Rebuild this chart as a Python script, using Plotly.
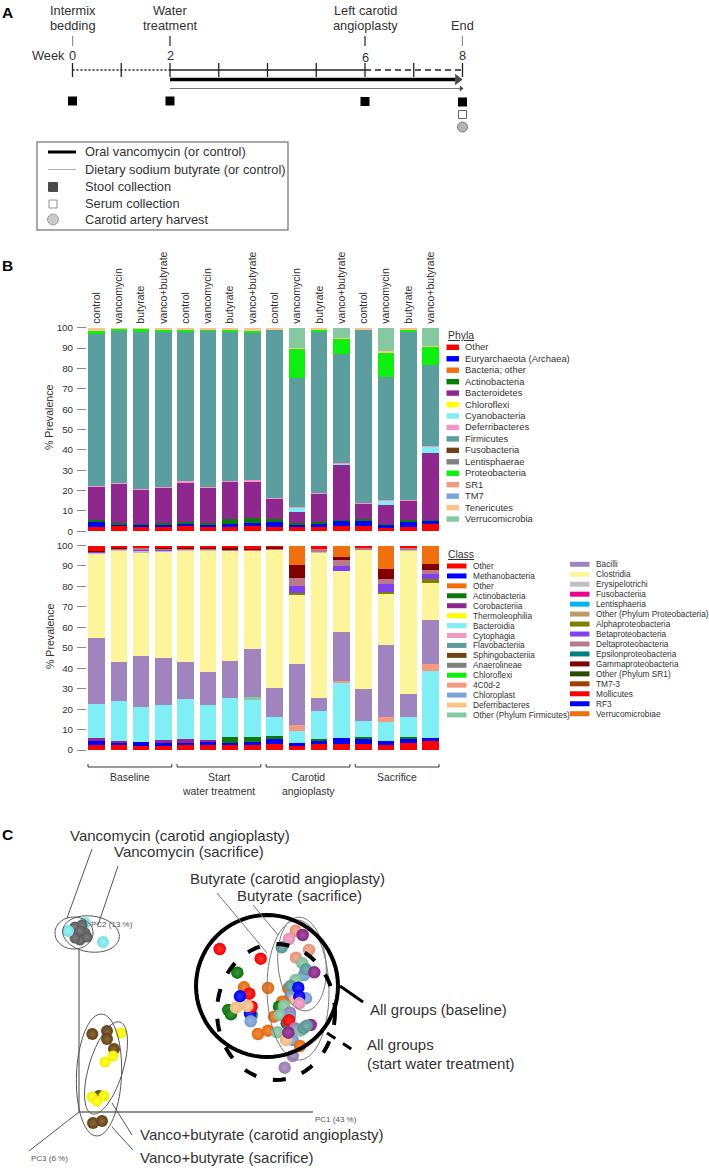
import numpy as np
import plotly.graph_objects as go

W, H = 709, 1171
FONT = "Liberation Sans, Arial, sans-serif"
INK = "#333333"

# ---- panel B data ----
bar_groups = ["control", "vancomycin", "butyrate", "vanco+butyrate"] * 4

phyla_names = ["Other", "Euryarchaeota (Archaea)", "Bacteria; other", "Actinobacteria", "Bacteroidetes",
               "Chloroflexi", "Cyanobacteria", "Deferribacteres", "Firmicutes", "Fusobacteria",
               "Lentisphaerae", "Proteobacteria", "SR1", "TM7", "Tenericutes", "Verrucomicrobia"]
phyla_colors = ["#FF0000", "#0000FF", "#F07010", "#0B7A0B", "#8E278E", "#FFFF00", "#7FEFF5", "#F299C2",
                "#5B9E9D", "#6B4513", "#808080", "#10F010", "#F59A80", "#7BA4D9", "#FCC48A", "#86C9A1"]

ph_other = [2.3, 2.4, 2.2, 2.3, 2.5, 2.3, 2.3, 2.4, 2.3, 2.3, 2.3, 2.4, 2.5, 1.8, 2.3, 3.3]
ph_eury = [2.1, 1.1, 1.0, 1.2, 1.2, 1.2, 1.2, 1.6, 2.8, 1.3, 1.1, 3.1, 2.7, 1.7, 2.4, 2.0]
ph_actino = [1.1, 0.5, 0.5, 0.6, 0.8, 0.7, 2.5, 2.3, 0.8, 0.4, 1.0, 0.2, 0.7, 0.2, 0.8, 0.3]
ph_bacteroid = [16.7, 19.5, 17.0, 17.6, 19.8, 17.4, 18.7, 18.2, 10.1, 5.2, 14.1, 26.6, 7.8, 9.3, 9.8, 32.6]
ph_cyano = [0, 0, 0, 0, 0, 0, 0, 0, 0, 2.8, 0, 1.2, 0, 2.2, 0, 3.8]
ph_deferri = [0.2, 0.2, 0.1, 0.1, 0.2, 0.1, 0.1, 0.8, 0.3, 0.1, 0.1, 0.1, 0.1, 0.1, 0.1, 0.1]
ph_firmi = [74.6, 74.5, 77.2, 76.2, 73.5, 76.5, 73.1, 72.2, 82.9, 63.2, 79.5, 53.4, 85.4, 60.4, 82.9, 39.6]
ph_proteo = [1.5, 1.6, 1.6, 1.3, 1.2, 1.3, 1.3, 1.5, 0.3, 14.7, 0.7, 7.6, 0.3, 12.5, 0.8, 9.3]
ph_teneri = [1.4, 0.2, 0.4, 0.7, 0.8, 0.5, 0.8, 0.8, 0.5, 0.2, 1.1, 0.1, 0.5, 0.2, 0.9, 0.1]
ph_verruco = [0, 0, 0, 0, 0, 0, 0, 0, 0, 9.8, 0, 5.3, 0, 11.6, 0, 8.9]
phyla_series = [(0, ph_other), (1, ph_eury), (3, ph_actino), (4, ph_bacteroid), (6, ph_cyano), (7, ph_deferri),
                (8, ph_firmi), (11, ph_proteo), (14, ph_teneri), (15, ph_verruco)]

class_names = ["Other", "Methanobacteria", "Other", "Actinobacteria", "Corobacteriia", "Thermoleophilia",
               "Bacteroidia", "Cytophagia", "Flavobacteriia", "Sphingobacteriia", "Anaerolineae", "Chloroflexi",
               "4C0d-2", "Chloroplast", "Deferribacteres", "Other (Phylum Firmicutes)",
               "Bacilli", "Clostridia", "Erysipelotrichi", "Fusobacteriia", "Lentisphaeria",
               "Other (Phylum Proteobacteria)", "Alphaproteobacteria", "Betaproteobacteria", "Deltaproteobacteria",
               "Epsilonproteobacteria", "Gammaproteobacteria", "Other (Phylum SR1)", "TM7-3", "Mollicutes", "RF3",
               "Verrucomicrobiae"]
class_colors = ["#FF0000", "#0000FF", "#F07010", "#0B7A0B", "#8E278E", "#FFFF00", "#7FEFF5", "#F299C2",
                "#5B9E9D", "#6B4513", "#808080", "#10F010", "#F59A80", "#7BA4D9", "#FCC48A", "#86C9A1",
                "#9F84BD", "#FDF59B", "#C0C0C0", "#EC008C", "#00B4F0", "#C19A6B", "#808000", "#8040F0",
                "#B87A8A", "#008080", "#800000", "#2F4A00", "#A04000", "#FF0000", "#0000FF", "#F07010"]

cl_other = [2.6, 2.5, 2.2, 2.2, 2.6, 2.3, 2.3, 2.5, 2.9, 1.9, 2.9, 2.9, 2.9, 2.6, 3.3, 4.2]
cl_metha = [1.9, 1.6, 1.5, 1.8, 1.0, 1.5, 1.2, 1.3, 2.5, 1.3, 1.3, 3.1, 2.8, 1.8, 2.2, 1.7]
cl_actino = [0, 0, 0, 0, 0, 0, 2.7, 2.7, 1.3, 0, 1.0, 0, 0.8, 0, 1.0, 0]
cl_coro = [1.3, 0.2, 0, 0.9, 1.9, 1.2, 0, 0, 0, 0, 0, 0, 0, 0, 0, 0]
cl_bacteroidia = [16.5, 19.6, 17.3, 17.1, 19.4, 17.0, 19.0, 18.4, 9.6, 6.1, 14.0, 26.7, 7.8, 9.3, 9.4, 32.8]
cl_4c0d = [0, 0, 0, 0, 0, 0, 0, 0, 0, 3.1, 0, 1.1, 0, 2.2, 0, 3.6]
cl_firm_other = [0, 0, 0, 0, 0, 0, 0, 0.8, 0, 0, 0, 0, 0, 0, 0, 0]
cl_bacilli = [32.3, 19.2, 25.0, 23.2, 18.1, 15.9, 18.2, 23.7, 14.1, 29.9, 6.2, 23.9, 15.5, 35.5, 11.4, 21.4]
cl_clostridia = [41.7, 54.9, 50.7, 52.0, 54.7, 60.0, 54.3, 48.2, 68.0, 33.3, 71.5, 29.6, 68.7, 24.7, 70.4, 18.1]
cl_erysipelo = [0.4, 0.4, 0.9, 0.6, 0.5, 0.4, 0, 0, 0, 0, 0.6, 0, 0, 0, 0.5, 0]
cl_alpha = [0, 0, 0, 0, 0, 0, 0, 0, 0, 1.1, 0, 0, 0, 1.3, 0, 1.6]
cl_beta = [0.5, 0, 0.5, 0.3, 0, 0, 0, 0, 0, 3.5, 0, 2.9, 0, 3.9, 0, 2.8]
cl_delta = [0.2, 0.4, 0.7, 0.5, 0.5, 0.5, 0.6, 0.5, 0.6, 3.7, 0.6, 2.6, 0.5, 2.1, 0.6, 1.9]
cl_gamma = [0.1, 0.4, 0, 0.2, 0.3, 0.2, 0.6, 0.4, 0.6, 6.5, 0, 1.8, 0, 5.2, 0, 3.1]
cl_molli = [2.5, 0.8, 1.2, 1.2, 1.0, 1.0, 1.1, 1.5, 0.4, 0, 1.9, 0, 1.0, 0, 1.2, 0]
cl_verruco = [0, 0, 0, 0, 0, 0, 0, 0, 0, 9.6, 0, 5.4, 0, 11.4, 0, 8.8]
class_series = [(0, cl_other), (1, cl_metha), (3, cl_actino), (4, cl_coro), (6, cl_bacteroidia), (12, cl_4c0d),
                (15, cl_firm_other), (16, cl_bacilli), (17, cl_clostridia), (18, cl_erysipelo), (22, cl_alpha),
                (23, cl_beta), (24, cl_delta), (26, cl_gamma), (29, cl_molli), (31, cl_verruco)]

percent_ticks = [0, 10, 20, 30, 40, 50, 60, 70, 80, 90, 100]
bracket_labels = ["Baseline", "Start<br>water treatment", "Carotid<br>angioplasty", "Sacrifice"]

# ---- panel A data ----
week_labels = ["0", "2", "6", "8"]
event_weeks = [0, 2, 6, 8]
event_line1 = ["Intermix", "Water", "Left carotid", ""]
event_line2 = ["bedding", "treatment", "angioplasty", "End"]
tick_weeks = [0, 1, 2, 3, 4, 5, 6, 7, 8]

# ---- panel C data, PCoA scores as read on the page ----
vanco_x = [85, 68, 103]
vanco_y = [923, 931, 942]
vanco_s_x = [75, 82, 77, 85, 80, 75, 87, 80]
vanco_s_y = [927, 925, 935, 933, 940, 938, 937, 931]
vb_brown_x = [92.3, 107, 107, 114, 99, 93, 102]
vb_brown_y = [1034, 1031, 1039, 1049, 1096, 1123, 1121]
vb_yellow_x = [121, 113, 105, 92, 104, 97]
vb_yellow_y = [1033, 1056, 1062, 1097, 1096, 1101]

cluster_x = [219.7, 260.7, 237.3, 244, 249.3, 240, 268, 228.3, 231, 236, 251.7, 250, 251.7, 247.3, 250.7,
             295.7, 302.7, 289, 281.7, 309, 296, 302.3, 304, 306, 314.3, 295.7, 288.3, 290.7, 298.3, 290, 295, 306,
             299.3, 299.3, 282.3, 279, 284, 274, 290, 280, 290, 286.7, 289, 295, 258, 268, 277.3, 292.7, 286, 288.3,
             300, 310.7, 300.7, 303.3, 306.7, 292.7, 284.7]
cluster_y = [949, 958.7, 972.7, 987.3, 993.7, 996.3, 988, 1010, 1014.3, 1007.7, 1015, 1013.3, 1006.7, 1006, 1021.3,
             930.7, 935, 939, 947.3, 950, 957.7, 963.3, 975, 969.3, 972.3, 980, 988.3, 986, 987.7, 997.3, 1000, 998.3,
             996.7, 1003.3, 1001.7, 1006.7, 1005.7, 1016.7, 1012.7, 1015, 1016.7, 1023.3, 1020.3, 1028.3, 1034, 1030.7,
             1032.3, 1040, 1040, 1032.7, 1046, 1025, 1030.7, 1028.3, 1025.7, 1056, 1067.7]
cluster_colors = ["#FF0000", "#FF0000", "#0B7A0B", "#F07010", "#FF0000", "#0000FF", "#F07010", "#0B7A0B", "#0B7A0B",
                  "#FCC48A", "#3D7F7E", "#0000FF", "#FF0000", "#FCC48A", "#7BA4D9",
                  "#F59A80", "#8E278E", "#F299C2", "#5B9E9D", "#F59A80", "#F59A80", "#86C9A1", "#7BA4D9", "#5B9E9D",
                  "#8E278E", "#86C9A1", "#F07010", "#5B9E9D", "#0000FF", "#7BA4D9", "#FCC48A", "#7BA4D9",
                  "#0000FF", "#F299C2", "#F07010", "#0B7A0B", "#86C9A1", "#F07010", "#9F84BD", "#86C9A1", "#7BA4D9",
                  "#595959", "#FF0000", "#9F84BD", "#F07010", "#F07010", "#86C9A1", "#7BA4D9", "#FCC48A", "#8E278E",
                  "#F07010", "#8E278E", "#86C9A1", "#5B9E9D", "#5B9E9D", "#9F84BD", "#9F84BD"]


def px(x):
    return x / W


def py(y):
    return 1 - y / H


def blend(color, target, amount):
    rgb = [int(color[i:i + 2], 16) for i in (1, 3, 5)]
    mixed = [round(c + (target - c) * amount) for c in rgb]
    return "#%02x%02x%02x" % tuple(mixed)


def label(text, x, y, size=12.8, anchor="left", color=INK, angle=0):
    annotations.append(dict(text=text, x=px(x), y=py(y), xref="paper", yref="paper", showarrow=False,
                            xanchor=anchor, yanchor="middle", textangle=angle, align="center" if anchor == "center" else "left",
                            font=dict(family=FONT, size=size, color=color)))


def page_line(x0, y0, x1, y1, color="#555555", width=1, dash="solid"):
    shapes.append(dict(type="line", xref="x4", yref="y4", x0=x0, y0=y0, x1=x1, y1=y1,
                       line=dict(color=color, width=width, dash=dash)))


def ellipse(cx, cy, rx, ry, tilt=0, color="#555555", width=1, dash="solid"):
    t = np.linspace(0, 2 * np.pi, 73)
    a = np.radians(tilt)
    xs = cx + rx * np.cos(t) * np.cos(a) - ry * np.sin(t) * np.sin(a)
    ys = cy + rx * np.cos(t) * np.sin(a) + ry * np.sin(t) * np.cos(a)
    path = "M" + "L".join(f"{x:.1f},{y:.1f}" for x, y in zip(xs, ys)) + "Z"
    shapes.append(dict(type="path", path=path, xref="x4", yref="y4", line=dict(color=color, width=width, dash=dash)))


def spheres(xs, ys, colors, size=12):
    if isinstance(colors, str):
        colors = [colors] * len(xs)
    fig.add_trace(go.Scatter(x=xs, y=ys, mode="markers", xaxis="x4", yaxis="y4", showlegend=False, hoverinfo="skip",
                             marker=dict(size=size, color=[blend(c, 0, 0.06) for c in colors], line=dict(width=0),
                                         gradient=dict(type="radial", color=[blend(c, 255, 0.2) for c in colors]))))


fig = go.Figure()
shapes = []
annotations = []

# ---- panel B bars ----
positions = list(range(len(bar_groups)))
for idx, values in phyla_series:
    fig.add_trace(go.Bar(x=positions, y=values, name=phyla_names[idx], marker_color=phyla_colors[idx],
                         marker_line_width=0, width=0.74, xaxis="x", yaxis="y", showlegend=False))
for idx, values in class_series:
    fig.add_trace(go.Bar(x=positions, y=values, name=class_names[idx], marker_color=class_colors[idx],
                         marker_line_width=0, width=0.74, xaxis="x2", yaxis="y2", showlegend=False))

# brackets and period labels under the class bars
for i, text in enumerate(bracket_labels):
    start, end = i * 4 - 0.38, i * 4 + 3 + 0.38
    for x0, y0, x1, y1 in [(start, 767, end, 767), (start, 764, start, 767), (end, 764, end, 767)]:
        shapes.append(dict(type="line", xref="x2", yref="paper", x0=x0, x1=x1, y0=py(y0), y1=py(y1),
                           line=dict(color="#333333", width=1)))
    annotations.append(dict(text=text, x=i * 4 + 1.5, xref="x2", y=py(770), yref="paper", yanchor="top", showarrow=False,
                            font=dict(family=FONT, size=10.4, color=INK)))

label("% Prevalence", 49, 418, 10.6, "center", angle=-90)
label("% Prevalence", 50, 637, 10.6, "center", angle=-90)

# phyla legend
label("<u>Phyla</u>", 446, 336, 10.4)
for i, name in enumerate(phyla_names):
    y = 347.3 + i * 11.45
    shapes.append(dict(type="rect", xref="paper", yref="paper", x0=px(446.5), x1=px(459), y0=py(y - 2.7), y1=py(y + 2.7),
                       fillcolor=phyla_colors[i], line_width=0))
    label(name, 463, y - 0.5, 9.4)

# class legend, two columns
label("<u>Class</u>", 446, 554, 10.4)
for i, name in enumerate(class_names):
    col2 = i >= 16
    y = 564.3 + (i - 16) * 9.96 if col2 else 566 + i * 9.93
    x0 = 570 if col2 else 447
    shapes.append(dict(type="rect", xref="paper", yref="paper", x0=px(x0), x1=px(x0 + 19.5), y0=py(y - 2.5), y1=py(y + 2.5),
                       fillcolor=class_colors[i], line_width=0))
    label(name, 594 if col2 else 471, y, 8.3)


def week_text(text, week, y):
    annotations.append(dict(text=text, x=week, xref="x3", y=py(y), yref="paper", yanchor="middle", showarrow=False,
                            font=dict(family=FONT, size=12.8, color=INK)))


# ---- panel A timeline ----
label("Week", 30, 55, 12.8)
for week, line1, line2, number in zip(event_weeks, event_line1, event_line2, week_labels):
    if line1:
        week_text(line1, week, 10)
    week_text(line2, week, 25.5)
    week_text(number, week, 57 if week == 6 else 55)
    shapes.append(dict(type="line", xref="x3", yref="y4", x0=week, x1=week, y0=36, y1=46, line=dict(color="#222222", width=1.2)))


def timeline(xs, ys, **line):
    fig.add_trace(go.Scatter(x=xs, y=ys, mode="lines", xaxis="x3", yaxis="y4", showlegend=False, hoverinfo="skip", line=line))


timeline([0, 2], [70, 70], color="#222222", width=1.6, dash="2px,2px")
timeline([2, 6], [70, 70], color="#222222", width=1.6)
timeline([6, 8], [70, 70], color="#222222", width=1.6, dash="6px,4px")
fig.add_trace(go.Scatter(x=tick_weeks, y=[70] * len(tick_weeks), mode="markers", xaxis="x3", yaxis="y4", showlegend=False,
                         hoverinfo="skip", cliponaxis=False,
                         marker=dict(symbol="line-ns", size=10, line=dict(color="#222222", width=1.3))))
timeline([2, 7.85], [79.5, 79.5], color="black", width=3.6)
timeline([2, 7.95], [88.5, 88.5], color="#555555", width=0.8)
fig.add_trace(go.Scatter(x=[7.9, 7.97], y=[79.5, 88.5], mode="markers", xaxis="x3", yaxis="y4", showlegend=False,
                         hoverinfo="skip", cliponaxis=False,
                         marker=dict(symbol="triangle-right", size=[10, 5], color="black", line_width=0)))
fig.add_trace(go.Scatter(x=event_weeks, y=[101, 101, 101.5, 102], mode="markers", xaxis="x3", yaxis="y4", showlegend=False,
                         hoverinfo="skip", cliponaxis=False, marker=dict(symbol="square", size=9, color="black", line_width=0)))
fig.add_trace(go.Scatter(x=[8], y=[114.5], mode="markers", xaxis="x3", yaxis="y4", showlegend=False, hoverinfo="skip",
                         cliponaxis=False, marker=dict(symbol="square", size=8, color="white", line=dict(color="#666666", width=1))))
fig.add_trace(go.Scatter(x=[8], y=[127], mode="markers", xaxis="x3", yaxis="y4", showlegend=False, hoverinfo="skip",
                         cliponaxis=False, marker=dict(symbol="circle", size=10, color="#B5B5B5", line=dict(color="#777777", width=1))))

# timeline key
shapes.append(dict(type="rect", xref="x4", yref="y4", x0=37, x1=288, y0=142, y1=230, line=dict(color="#8C8C8C", width=1.5)))
page_line(48, 152, 76, 152, "black", 3)
page_line(48, 169.5, 76, 169.5, "#B0B0B0", 1)
fig.add_trace(go.Scatter(x=[53, 53, 53], y=[187, 204, 219.5], mode="markers", xaxis="x4", yaxis="y4", showlegend=False, hoverinfo="skip",
                         marker=dict(symbol=["square", "square", "circle"], size=[9, 8, 11], color=["black", "white", "#B5B5B5"],
                                     line=dict(color=["black", "#666666", "#777777"], width=1))))
key_labels = ["Oral vancomycin (or control)", "Dietary sodium butyrate (or control)", "Stool collection",
              "Serum collection", "Carotid artery harvest"]
for y, text in zip([152, 169.5, 186.5, 203, 219.5], key_labels):
    label(text, 82.5, y, 12.8)

# panel letters
label("<b>A</b>", 0, 12, 15.5, color="black")
label("<b>B</b>", 0, 265, 15.5, color="black")
label("<b>C</b>", 0, 834, 15.5, color="black")

# ---- panel C ordination ----
page_line(79, 950, 79, 1112, "#6E6E6E", 1.3)
page_line(79, 1112, 313, 1112, "#6E6E6E", 1.3)
page_line(79, 1112, 29, 1151, "#555555", 1)
label("PC1 (43 %)", 313, 1119.5, 8, color="#555555")
label("PC3 (6 %)", 29, 1158, 8, color="#555555")

spheres(vanco_x[:1], vanco_y[:1], "#7FEFF5", 12)
spheres(vanco_s_x, vanco_s_y, "#606060", 11)
spheres(vanco_x[1:], vanco_y[1:], "#7FEFF5", 12)
label("PC2 (13 %)", 89, 924, 8, color="#555555")
spheres(vb_brown_x, vb_brown_y, "#6B4513", 12)
spheres(vb_yellow_x, vb_yellow_y, "#FFFF00", 11)
spheres(cluster_x, cluster_y, cluster_colors, 12.5)

# ellipses round the groups
ellipse(74, 933, 19, 16, 0)
ellipse(91, 934, 28.5, 18, 8)
ellipse(99, 1075, 22.5, 61, 2.4)
ellipse(106, 1068, 17, 48, 17)
ellipse(298, 990, 31, 70, -1, "#777777")
ellipse(302, 964, 24, 47, -5, "#777777")
ellipse(267, 986, 71, 71, 0, "black", 4)
ellipse(276, 1012, 59, 68, 0, "black", 4, "13px,17px")

# leaders
page_line(92, 849, 67, 918)
page_line(118, 866, 98, 925)
page_line(217, 893, 267, 953, "#777777")
page_line(253, 905, 278, 935, "#777777")
page_line(112, 1103, 132, 1135)
page_line(112, 1127, 133, 1150)
page_line(340, 986, 363, 1002, "black", 3)
page_line(327, 1033, 356, 1052, "black", 3, "10px,9px")

for text, x, y in [("Vancomycin (carotid angioplasty)", 68, 835), ("Vancomycin (sacrifice)", 112, 852),
                   ("Butyrate (carotid angioplasty)", 188, 878), ("Butyrate (sacrifice)", 235, 895),
                   ("All groups (baseline)", 368, 1009), ("All groups", 365, 1044), ("(start water treatment)", 365, 1063),
                   ("Vanco+butyrate (carotid angioplasty)", 137.5, 1134), ("Vanco+butyrate (sacrifice)", 137.5, 1157)]:
    label(text, x, y, 15)

tick_font = dict(family=FONT, size=9.8, color=INK)
axis_y = dict(range=[0, 100], tickvals=percent_ticks, ticks="outside", ticklen=9, tickcolor="#8C8C8C", tickwidth=1,
              showgrid=False, zeroline=False, showline=False, tickfont=tick_font, anchor="free", position=px(86),
              ticklabelstandoff=2)
fig.update_layout(
    width=W, height=H, margin=dict(l=0, r=0, t=0, b=0, autoexpand=False), autosize=False,
    barmode="stack", bargap=0.26, paper_bgcolor="white", plot_bgcolor="rgba(0,0,0,0)",
    hovermode=False, showlegend=False, shapes=shapes, annotations=annotations,
    xaxis=dict(domain=[px(86), px(441)], range=[-0.47, 15.47], side="top", tickvals=positions, ticktext=bar_groups,
               tickangle=-90, ticks="", showgrid=False, zeroline=False, anchor="y", ticklabelstandoff=3,
               tickfont=dict(family=FONT, size=10.5, color=INK)),
    yaxis=dict(domain=[py(531.2), py(327.7)], **axis_y),
    xaxis2=dict(domain=[px(86), px(441)], range=[-0.47, 15.47], showticklabels=False, ticks="", showgrid=False,
                zeroline=False, anchor="y2"),
    yaxis2=dict(domain=[py(750), py(545.5)], **axis_y),
    xaxis3=dict(domain=[px(72.5), px(462.5)], range=[0, 8], visible=False, anchor="y4"),
    xaxis4=dict(domain=[0, 1], range=[0, W], visible=False, anchor="y4"),
    yaxis4=dict(domain=[0, 1], range=[H, 0], visible=False, anchor="x4"),
)

fig.write_html("out.html", config={"displayModeBar": False}, post_script="document.body.style.margin='0';")
